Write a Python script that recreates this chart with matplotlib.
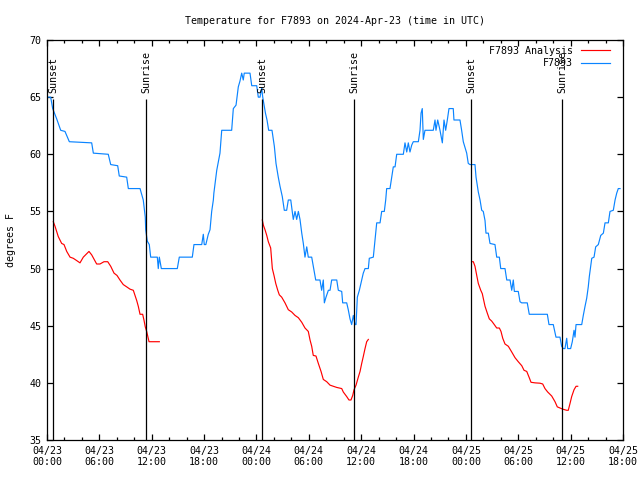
import numpy as np
import pandas as pd
import matplotlib
matplotlib.use("Agg")
import matplotlib.pyplot as plt
import matplotlib.dates as mdates

plt.rcParams['font.family'] = ['DejaVu Sans Mono']
plt.rcParams['font.size'] = 7.2

# Hours after 2024-04-23 00:00 UTC, temperature in degrees F
obs_hours = [0.0, 0.42, 0.65, 1.11, 1.57, 2.06, 2.56, 5.12, 5.31, 7.02, 7.3, 8.1, 8.28, 9.13, 9.32,
             10.66, 11.03, 11.26, 11.31, 11.49, 11.72, 11.88, 12.64, 12.75, 12.87, 13.1, 14.93, 15.16,
             16.65, 16.84, 17.73, 17.91, 18.02, 18.2, 18.48, 18.68, 18.87, 19.06, 19.12, 19.45, 19.82,
             20.02, 21.16, 21.35, 21.66, 21.92, 22.11, 22.31, 22.49, 22.6, 23.26, 23.46, 24.03, 24.21,
             24.41, 24.6, 24.72, 25.03, 25.21, 25.4, 25.78, 25.9, 26.05, 26.24, 26.5, 26.7, 26.96,
             27.19, 27.46, 27.65, 27.93, 28.08, 28.22, 28.42, 28.61, 28.8, 28.99, 29.19, 29.37, 29.56,
             29.76, 29.94, 30.33, 30.51, 30.79, 31.28, 31.47, 31.66, 31.78, 31.97, 32.24, 32.43, 32.62,
             33.2, 33.38, 33.77, 33.88, 34.34, 34.52, 34.72, 34.91, 35.1, 35.29, 35.41, 35.56, 35.79,
             36.06, 36.24, 36.44, 36.82, 36.93, 37.39, 37.58, 37.78, 38.16, 38.35, 38.65, 38.81, 38.92,
             39.3, 39.5, 39.68, 39.88, 40.07, 40.83, 41.02, 41.22, 41.4, 41.59, 41.79, 41.97, 42.55,
             42.74, 42.86, 43.0, 43.12, 43.31, 44.26, 44.46, 44.57, 44.77, 45.03, 45.3, 45.49, 45.68,
             45.87, 46.06, 46.55, 46.63, 47.32, 47.51, 47.7, 48.09, 48.27, 48.47, 49.04, 49.16, 49.42,
             49.62, 49.81, 49.99, 50.19, 50.3, 50.57, 50.76, 51.33, 51.53, 51.83, 51.99, 52.48, 52.68,
             53.06, 53.25, 53.43, 53.55, 54.0, 54.2, 54.39, 55.03, 55.26, 57.33, 57.52, 58.01, 58.32,
             58.78, 58.97, 59.16, 59.35, 59.55, 59.66, 60.0, 60.19, 60.39, 60.5, 60.62, 61.27, 61.45,
             61.65, 61.84, 62.02, 62.14, 62.42, 62.68, 62.87, 63.17, 63.45, 63.75, 63.94, 64.32, 64.51,
             64.89, 65.09, 65.28, 65.46, 65.66]
obs_temp = [65.0, 65.0, 64.0, 63.1, 62.1, 62.0, 61.1, 61.0, 60.1, 60.0, 59.1, 59.0, 58.1, 58.0, 57.0,
            57.0, 56.0, 54.5, 53.4, 52.4, 52.1, 51.0, 51.0, 50.0, 51.0, 50.0, 50.0, 51.0,
            51.0, 52.1, 52.1, 53.0, 52.1, 52.1, 53.0, 53.4, 55.0, 56.0, 56.6, 58.6, 60.1,
            62.1, 62.1, 64.0, 64.3, 65.9, 66.4, 67.1, 66.5, 67.1, 67.1, 66.0, 66.0, 65.0,
            65.0, 65.8, 65.0, 63.6, 63.0, 62.1, 62.1, 61.5, 60.7, 59.2, 58.0, 57.2, 56.3,
            55.1, 55.1, 56.0, 56.0, 55.1, 54.3, 55.0, 54.3, 55.0, 54.3, 53.1, 52.2, 51.0,
            51.9, 51.0, 51.0, 50.2, 49.0, 49.0, 48.1, 49.0, 47.0, 47.5, 48.1, 48.1, 49.0,
            49.0, 48.1, 48.0, 47.0, 47.0, 46.4, 45.6, 45.1, 45.9, 45.1, 45.1, 47.5, 48.1,
            49.0, 49.6, 50.0, 50.0, 50.9, 51.0, 52.5, 54.0, 54.0, 55.0, 55.0, 56.0, 57.0,
            57.0, 58.0, 58.9, 58.9, 60.0, 60.0, 61.0, 60.2, 61.0, 60.2, 60.8, 61.1, 61.1,
            62.1, 63.6, 64.0, 61.3, 62.1, 62.1, 63.0, 62.1, 63.0, 62.1, 61.0, 63.0, 62.1,
            63.0, 64.0, 64.0, 63.0, 63.0, 62.1, 61.1, 60.1, 59.2, 59.1, 59.1, 58.0, 56.7,
            56.0, 55.1, 55.0, 54.2, 53.1, 53.1, 52.2, 52.1, 51.0, 51.0, 50.0, 50.0, 49.0,
            49.0, 48.1, 49.0, 48.0, 48.0, 47.1, 47.0, 47.0, 46.0, 46.0, 45.1, 45.1, 44.0,
            44.0, 43.2, 43.0, 43.0, 43.9, 43.0, 43.0, 43.6, 44.6, 44.0, 45.1, 45.1, 45.9,
            46.7, 47.4, 48.4, 49.3, 50.9, 51.0, 51.9, 52.1, 52.9, 53.1, 54.0, 54.0, 55.0,
            55.1, 56.0, 56.6, 57.0, 57.0]

# Analysis runs, one per night
ana_hours = [
    [0.72, 0.92, 1.29, 1.68, 1.95, 2.26, 2.64, 3.01, 3.4, 3.78, 4.16, 4.81, 5.12, 5.69, 6.07, 6.53,
     6.96, 7.3, 7.68, 8.02, 8.36, 8.74, 9.13, 9.51, 9.89, 10.28, 10.46, 10.66, 10.96, 11.11, 11.26,
     11.42, 11.69, 12.87],
    [24.67, 24.79, 24.98, 25.18, 25.36, 25.63, 25.82, 26.01, 26.21, 26.44, 26.62, 26.89, 27.27, 27.65,
     28.04, 28.42, 28.8, 29.19, 29.56, 29.94, 30.14, 30.33, 30.51, 30.82, 31.09, 31.4, 31.66, 32.05,
     32.43, 32.81, 33.2, 33.77, 33.95, 34.34, 34.6, 34.83, 35.03, 35.18, 35.41, 35.67, 35.87, 36.06,
     36.24, 36.44, 36.63, 36.82],
    [48.66, 48.85, 49.04, 49.24, 49.42, 49.7, 49.88, 49.99, 50.19, 50.45, 50.68, 50.96, 51.25, 51.53,
     51.83, 52.02, 52.22, 52.48, 52.86, 53.25, 53.63, 54.0, 54.4, 54.66, 54.97, 55.26, 55.46, 55.92,
     56.49, 56.8, 57.06, 57.37, 57.83, 58.21, 58.47, 58.78, 59.09, 59.55, 59.73, 59.93, 60.12, 60.39,
     60.62, 60.81],
]
ana_temp = [
    [54.1, 53.7, 52.8, 52.2, 52.1, 51.5, 51.0, 50.9, 50.7, 50.5, 51.0, 51.5, 51.2, 50.4, 50.4, 50.6,
     50.6, 50.2, 49.6, 49.4, 49.0, 48.6, 48.4, 48.2, 48.1, 47.2, 46.7, 46.0, 46.0, 45.5, 44.9,
     44.5, 43.6, 43.6],
    [54.25, 53.8, 53.4, 52.9, 52.35, 51.8, 50.0, 49.4, 48.7, 48.1, 47.7, 47.5, 47.0, 46.4,
     46.2, 45.9, 45.7, 45.3, 44.8, 44.5, 43.75, 43.2, 42.4, 42.35, 41.7, 41.0, 40.3, 40.1,
     39.8, 39.7, 39.6, 39.5, 39.2, 38.8, 38.5, 38.5, 38.9, 39.4, 39.8, 40.5, 41.0, 41.7,
     42.3, 43.0, 43.6, 43.8],
    [50.6, 50.6, 50.2, 49.4, 48.7, 48.1, 47.8, 47.4, 46.7, 46.1, 45.6, 45.4, 45.1, 44.8,
     44.8, 44.5, 43.9, 43.4, 43.2, 42.7, 42.2, 41.85, 41.5, 41.1, 41.0, 40.45, 40.05, 40.0,
     39.97, 39.9, 39.5, 39.2, 38.85, 38.35, 37.9, 37.8, 37.7, 37.6, 37.6, 38.2, 38.8, 39.4,
     39.7, 39.7],
]

sun_hours = [0.69, 11.34, 24.64, 35.18, 48.58, 59.01]
sun_labels = ["Sunset", "Sunrise", "Sunset", "Sunrise", "Sunset", "Sunrise"]

base = pd.Timestamp("2024-04-23 00:00")
to_time = lambda h: base + pd.to_timedelta(np.asarray(h), unit="h")

fig = plt.figure(figsize=(6.4, 4.8), dpi=100)
ax = fig.add_axes([47 / 640, 40 / 480, 576 / 640, 400 / 480])

red = "#ff0000"
blue = "#0a84ff"

for i, (h, t) in enumerate(zip(ana_hours, ana_temp)):
    ax.plot(to_time(h), t, color=red, lw=0.85, label="F7893 Analysis" if i == 0 else None)
ax.plot(to_time(obs_hours), obs_temp, color=blue, lw=0.85, label="F7893")

for h, lab in zip(sun_hours, sun_labels):
    t = to_time(h)
    ax.vlines(t, 35, 64.8, color="black", lw=0.9)
    ax.text(t, 65.4, lab, rotation=90, ha="center", va="bottom")

ax.set_xlim(base, base + pd.Timedelta(hours=66))
ax.set_ylim(35, 70)
ax.set_yticks(range(35, 71, 5))

ax.xaxis.set_major_locator(mdates.HourLocator(byhour=[0, 6, 12, 18]))
ax.xaxis.set_minor_locator(mdates.HourLocator(byhour=range(0, 24, 2)))
ax.xaxis.set_major_formatter(mdates.DateFormatter("%m/%d\n%H:%M"))

ax.tick_params(which="both", direction="in", top=True, right=True, width=0.9)
ax.tick_params(which="major", length=4.5, pad=4)
ax.tick_params(which="minor", length=2.5)
for s in ax.spines.values():
    s.set_linewidth(0.9)

ax.set_ylabel("degrees F", labelpad=10)
ax.set_title("Temperature for F7893 on 2024-Apr-23 (time in UTC)", fontsize=7.2, pad=11.5)

ax.legend(loc="upper right", bbox_to_anchor=(0.977, 0.985), frameon=False, markerfirst=False,
          handlelength=2.9, handletextpad=0.8, borderpad=0, borderaxespad=0, labelspacing=0.25)

fig.savefig("out.png", dpi=100)
